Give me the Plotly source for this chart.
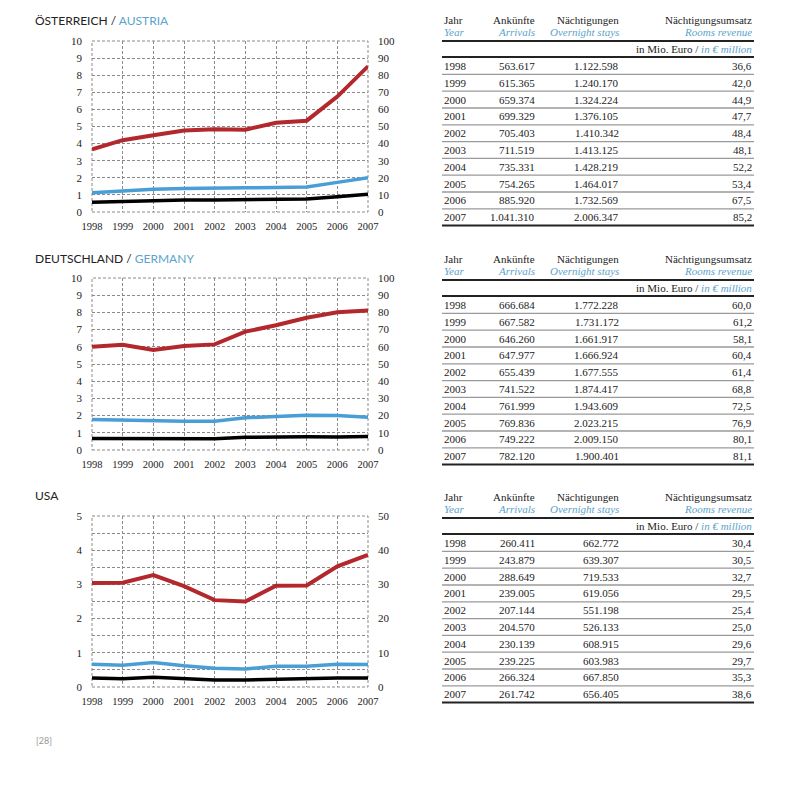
import plotly.graph_objects as go

years = [1998, 1999, 2000, 2001, 2002, 2003, 2004, 2005, 2006, 2007]

# Österreich / Austria
at_arrivals = [563617, 615365, 659374, 699329, 705403, 711519, 735331, 754265, 885920, 1041310]
at_stays = [1122598, 1240170, 1324224, 1376105, 1410342, 1413125, 1428219, 1464017, 1732569, 2006347]
at_revenue = [36.6, 42.0, 44.9, 47.7, 48.4, 48.1, 52.2, 53.4, 67.5, 85.2]

# Deutschland / Germany
de_arrivals = [666684, 667582, 646260, 647977, 655439, 741522, 761999, 769836, 749222, 782120]
de_stays = [1772228, 1731172, 1661917, 1666924, 1677555, 1874417, 1943609, 2023215, 2009150, 1900401]
de_revenue = [60.0, 61.2, 58.1, 60.4, 61.4, 68.8, 72.5, 76.9, 80.1, 81.1]

# USA
us_arrivals = [260411, 243879, 288649, 239005, 207144, 204570, 230139, 239225, 266324, 261742]
us_stays = [662772, 639307, 719533, 619056, 551198, 526133, 608915, 603983, 667850, 656405]
us_revenue = [30.4, 30.5, 32.7, 29.5, 25.4, 25.0, 29.6, 29.7, 35.3, 38.6]

titles_de = ["ÖSTERREICH", "DEUTSCHLAND", "USA"]
titles_en = ["AUSTRIA", "GERMANY", ""]
left_max = [10, 10, 5]
right_max = [100, 100, 50]

RED = "#b3282d"
BLUE = "#4a9ed6"
LBLUE = "#5ba3cc"
GRID = "#8a8a8a"
SERIF = "Liberation Serif"
SANS = "Lato"

W = H = 800
PAD = 8  # the page body adds an 8px margin round the figure


def fx(x):
    return (x - PAD) / W


def fy(y):
    return 1 - (y - PAD) / H


def de_int(v):
    return f"{v:,}".replace(",", ".")


def de_dec(v):
    return f"{v:.1f}".replace(".", ",")


data = [
    (at_arrivals, at_stays, at_revenue),
    (de_arrivals, de_stays, de_revenue),
    (us_arrivals, us_stays, us_revenue),
]

# pixel layout of the page
chart_top = [41, 278, 516]
chart_bottom = [212, 450, 687]
title_y = [20, 258, 495]
table_top = [20, 259, 497]
plot_left, plot_right = 92, 368
tab_left, tab_right = 442, 754
col_right = [537, 621, 754]

fig = go.Figure()
layout = {}
annotations = []
shapes = []

for i, (arr, stays, rev) in enumerate(data):
    n = i + 1
    xa = "x" if n == 1 else f"x{n}"
    yl = 2 * i + 1
    yr = 2 * i + 2
    yl_name = "y" if yl == 1 else f"y{yl}"
    yr_name = f"y{yr}"

    fig.add_trace(go.Scatter(x=years, y=[v / 1e6 for v in arr], xaxis=xa, yaxis=yl_name,
                             mode="lines", line=dict(color="black", width=3.5),
                             name="Ankünfte", showlegend=False))
    fig.add_trace(go.Scatter(x=years, y=[v / 1e6 for v in stays], xaxis=xa, yaxis=yl_name,
                             mode="lines", line=dict(color=BLUE, width=3.5),
                             name="Nächtigungen", showlegend=False))
    fig.add_trace(go.Scatter(x=years, y=rev, xaxis=xa, yaxis=yr_name,
                             mode="lines", line=dict(color=RED, width=4),
                             name="Nächtigungsumsatz", showlegend=False))

    ydom = [fy(chart_bottom[i]), fy(chart_top[i])]
    layout["xaxis" if n == 1 else f"xaxis{n}"] = dict(
        domain=[fx(plot_left), fx(plot_right)], anchor=yl_name,
        range=[1998, 2007], tickmode="array", tickvals=years, ticktext=[str(y) for y in years],
        showgrid=True, gridcolor=GRID, griddash="3px,2px", gridwidth=1,
        showline=False, zeroline=False, ticks="", ticklabelstandoff=6, automargin=False,
        tickfont=dict(family=SERIF, size=10.5, color="#222"),
    )
    left = dict(
        domain=ydom, anchor=xa, range=[0, left_max[i]], dtick=1,
        showgrid=True, gridcolor=GRID, griddash="3px,2px", gridwidth=1,
        showline=False, zeroline=False, ticks="", ticklabelstandoff=9, automargin=False,
        tickfont=dict(family=SERIF, size=11, color="#222"),
    )
    if left_max[i] == 5:
        left["minor"] = dict(dtick=0.5, showgrid=True, gridcolor=GRID, griddash="3px,2px", gridwidth=1)
    layout["yaxis" if yl == 1 else f"yaxis{yl}"] = left
    layout[f"yaxis{yr}"] = dict(
        domain=ydom, anchor=xa, overlaying=yl_name, side="right",
        range=[0, right_max[i]], dtick=10,
        showgrid=False, showline=False, zeroline=False, ticks="", ticklabelstandoff=9,
        automargin=False, tickfont=dict(family=SERIF, size=11, color="#222"),
    )

    # dashed frame round the plot area
    shapes.append(dict(type="rect", xref=f"{xa} domain", yref=f"{yl_name} domain",
                       x0=0, x1=1, y0=0, y1=1, layer="below",
                       line=dict(color=GRID, width=1, dash="3px,2px")))

    # chart title
    title = titles_de[i]
    if titles_en[i]:
        title += f" / <span style='color:{LBLUE}'>{titles_en[i]}</span>"
    annotations.append(dict(x=fx(33), y=fy(title_y[i]), xref="paper", yref="paper",
                            xanchor="left", yanchor="middle", showarrow=False, text=title,
                            font=dict(family=SANS, size=12, color="#222")))

    # table
    t0 = table_top[i]
    heads = [("Jahr", "Year"), ("Ankünfte", "Arrivals"),
             ("Nächtigungen", "Overnight stays"), ("Nächtigungsumsatz", "Rooms revenue")]
    for c, (hd, he) in enumerate(heads):
        xpos = tab_left if c == 0 else col_right[c - 1]
        anchor = "left" if c == 0 else "right"
        annotations.append(dict(x=fx(xpos), y=fy(t0), xref="paper", yref="paper",
                                xanchor=anchor, yanchor="middle", showarrow=False, text=hd,
                                font=dict(family=SERIF, size=11, color="#222")))
        annotations.append(dict(x=fx(xpos), y=fy(t0 + 12), xref="paper", yref="paper",
                                xanchor=anchor, yanchor="middle", showarrow=False,
                                text=f"<i>{he}</i>",
                                font=dict(family=SERIF, size=11, color=LBLUE)))
    annotations.append(dict(x=fx(tab_right), y=fy(t0 + 28.5), xref="paper", yref="paper",
                            xanchor="right", yanchor="middle", showarrow=False,
                            text=f"in Mio. Euro / <span style='color:{LBLUE}'><i>in € million</i></span>",
                            font=dict(family=SERIF, size=11, color="#222")))
    for yline in (t0 + 21, t0 + 37):
        shapes.append(dict(type="line", xref="paper", yref="paper",
                           x0=fx(tab_left), x1=fx(tab_right), y0=fy(yline), y1=fy(yline),
                           line=dict(color="#222", width=2)))
    step = 16.8
    for k, yr_ in enumerate(years):
        ry = t0 + 46 + k * step
        cells = [str(yr_), de_int(arr[k]), de_int(stays[k]), de_dec(rev[k])]
        for c, txt in enumerate(cells):
            xpos = tab_left if c == 0 else col_right[c - 1]
            anchor = "left" if c == 0 else "right"
            annotations.append(dict(x=fx(xpos), y=fy(ry), xref="paper", yref="paper",
                                    xanchor=anchor, yanchor="middle", showarrow=False, text=txt,
                                    font=dict(family=SERIF, size=11, color="#222")))
        sep = ry + step / 2
        last = k == len(years) - 1
        shapes.append(dict(type="line", xref="paper", yref="paper",
                           x0=fx(tab_left), x1=fx(tab_right), y0=fy(sep), y1=fy(sep),
                           line=dict(color="#222" if last else "#9a9a9a", width=2 if last else 1.3)))

annotations.append(dict(x=fx(34), y=fy(740), xref="paper", yref="paper",
                        xanchor="left", yanchor="middle", showarrow=False, text="[28]",
                        font=dict(family=SANS, size=9, color="#999")))

fig.update_layout(
    width=W, height=H, margin=dict(l=0, r=0, t=0, b=0, autoexpand=False),
    paper_bgcolor="white", plot_bgcolor="white",
    annotations=annotations, shapes=shapes, showlegend=False,
    **layout,
)

fig.write_html("out.html")
